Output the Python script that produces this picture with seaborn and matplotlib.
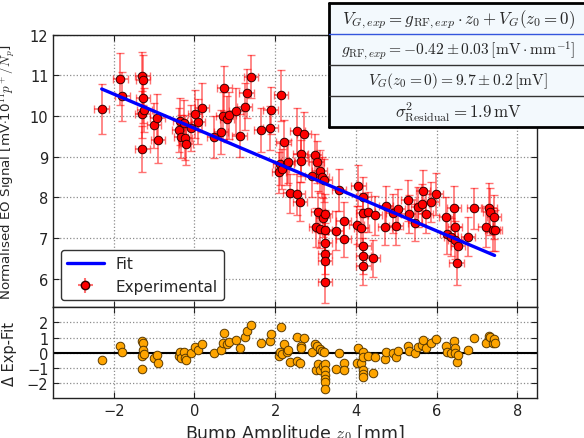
import numpy as np
import pandas as pd
import matplotlib
matplotlib.use("Agg")
import matplotlib.pyplot as plt
from matplotlib.lines import Line2D
import seaborn as sns

# Bump amplitude z0 [mm]
z = [-2.30, -1.84, -1.79, -1.29, -1.28, -1.28, -1.29, -1.24, -1.29, -1.00,
     -0.92, -0.91, -0.39, -0.36, -0.33, -0.25, -0.24, -0.21, -0.09, 0.01,
     0.09, 0.19, 0.48, 0.66, 0.71, 0.74, 0.81, 0.85, 1.03, 1.12,
     1.24, 1.29, 1.40, 1.66, 1.88, 1.89, 2.09, 2.13, 2.15, 2.17,
     2.21, 2.29, 2.32, 2.37, 2.55, 2.55, 2.61, 2.63, 2.64, 2.71,
     2.91, 2.98, 3.03, 3.02, 3.06, 3.10, 3.10, 3.16, 3.19, 3.22,
     3.24, 3.24, 3.24, 3.24, 3.24, 3.24, 3.50, 3.58, 3.70, 3.70,
     4.02, 4.06, 4.14, 4.19, 4.19, 4.19, 4.19, 4.19, 4.30, 4.43,
     4.48, 4.72, 4.75, 4.92, 4.99, 5.05, 5.30, 5.31, 5.47, 5.54,
     5.63, 5.66, 5.73, 5.87, 5.99, 6.24, 6.27, 6.36, 6.43, 6.46,
     6.47, 6.50, 6.53, 6.78, 6.93, 7.22, 7.31, 7.33, 7.39, 7.42,
     7.44]

# Normalised EO signal [mV 1e11 p+/Np]
v = [10.17, 10.91, 10.49, 10.99, 10.89, 10.44, 10.04, 10.15, 9.19, 9.77,
     9.96, 9.40, 9.66, 9.87, 9.49, 9.83, 9.47, 9.31, 9.70, 10.05,
     9.86, 10.21, 9.48, 9.62, 10.01, 10.68, 9.93, 10.02, 10.13, 9.52,
     10.23, 10.56, 10.97, 9.66, 9.70, 10.14, 8.62, 8.83, 10.51, 8.70,
     9.36, 8.81, 8.88, 8.10, 9.64, 8.08, 7.90, 9.06, 8.90, 9.55,
     8.52, 9.04, 8.87, 7.27, 7.65, 8.64, 7.22, 8.50, 7.50, 8.42,
     7.59, 7.20, 6.87, 6.61, 6.43, 5.91, 7.18, 8.18, 7.43, 6.99,
     7.33, 8.29, 7.26, 8.01, 7.63, 6.80, 6.56, 6.32, 7.65, 6.50,
     7.56, 7.28, 7.78, 7.61, 7.29, 7.71, 7.93, 7.60, 7.38, 7.76,
     7.84, 8.15, 7.60, 7.89, 8.08, 7.52, 7.09, 7.03, 7.75, 7.28,
     6.96, 6.38, 6.81, 7.03, 7.73, 7.28, 7.75, 7.65, 7.21, 7.52,
     7.19]

# Uncertainty on the signal
v_err = [0.62, 0.63, 0.60, 0.58, 0.62, 0.60, 0.57, 0.55, 0.57, 0.56,
         0.58, 0.55, 0.54, 0.57, 0.53, 0.56, 0.55, 0.52, 0.56, 0.58,
         0.55, 0.60, 0.52, 0.54, 0.57, 0.55, 0.56, 0.58, 0.57, 0.53,
         0.58, 0.60, 0.53, 0.55, 0.54, 0.58, 0.50, 0.52, 0.62, 0.50,
         0.55, 0.51, 0.52, 0.48, 0.56, 0.50, 0.48, 0.53, 0.52, 0.55,
         0.50, 0.53, 0.52, 0.48, 0.50, 0.52, 0.47, 0.50, 0.48, 0.52,
         0.50, 0.48, 0.50, 0.48, 0.47, 0.50, 0.48, 0.52, 0.47, 0.46,
         0.47, 0.50, 0.46, 0.49, 0.48, 0.46, 0.45, 0.48, 0.49, 0.45,
         0.48, 0.46, 0.50, 0.48, 0.46, 0.49, 0.50, 0.47, 0.46, 0.49,
         0.50, 0.52, 0.48, 0.50, 0.51, 0.48, 0.47, 0.46, 0.52, 0.48,
         0.47, 0.53, 0.47, 0.48, 0.50, 0.50, 0.60, 0.58, 0.52, 0.55,
         0.50]

z_err = 0.18  # uncertainty on the bump amplitude [mm]

# Linear fit parameters
slope, slope_err = -0.42, 0.03
intercept, intercept_err = 9.7, 0.2
sigma_res = 1.9

z = np.array(z)
v = np.array(v)
v_err = np.array(v_err)
residual = v - (intercept + slope * z)

z_line = np.array([z.min(), z.max()])
fit_df = pd.DataFrame({"z": z_line, "fit": intercept + slope * z_line})
res_df = pd.DataFrame({"z": z, "residual": residual})

sns.set_style("ticks")
plt.rcParams.update({
    "font.family": ["DejaVu Sans"],
    "mathtext.fontset": "cm",
    "font.size": 10.5,
    "axes.edgecolor": "#222222",
    "axes.linewidth": 1.0,
    "xtick.direction": "in",
    "ytick.direction": "in",
    "xtick.top": True,
    "ytick.right": True,
    "xtick.major.size": 4,
    "ytick.major.size": 4,
    "xtick.color": "#222222",
    "ytick.color": "#222222",
    "xtick.labelsize": 10.5,
    "ytick.labelsize": 10.5,
})

fig = plt.figure(figsize=(5.84, 4.39), dpi=100)
ax = fig.add_axes([0.0913, 0.2977, 0.8288, 0.621])
axr = fig.add_axes([0.0913, 0.0911, 0.8288, 0.2066], sharex=ax)

grid_kw = dict(color="0.55", linestyle=":", linewidth=0.9)

# --- main panel: data with error bars and linear fit
ax.errorbar(z, v, yerr=v_err, xerr=z_err, fmt="none",
            ecolor=(1.0, 0.0, 0.0, 0.55), elinewidth=1.2, capsize=3,
            capthick=1.0, zorder=2)
sns.scatterplot(data=pd.DataFrame({"z": z, "v": v}), x="z", y="v", ax=ax,
                color="red", edgecolor="#330000", linewidth=0.7, s=38,
                zorder=3, legend=False)
sns.lineplot(data=fit_df, x="z", y="fit", ax=ax, color="blue",
             linewidth=2.4, zorder=4, legend=False)

ax.set_xlim(-3.5, 8.5)
ax.set_ylim(5.3, 12)
ax.set_yticks([6, 7, 8, 9, 10, 11, 12])
ax.grid(True, **grid_kw)
ax.tick_params(labelbottom=False)
ax.set_xlabel("")
ax.set_ylabel(r"Normalised EO Signal [mV$\cdot$10$^{11}$$p^+/N_p$]", fontsize=9.6)
ax.yaxis.set_label_coords(-0.075, 0.5)

fit_handle = Line2D([], [], color="blue", linewidth=2.4)
exp_handle = ax.errorbar([], [], yerr=[], xerr=[], fmt="o", color="red",
                         mec="#330000", ms=6, ecolor=(1.0, 0.0, 0.0, 0.55),
                         capsize=3)
leg = ax.legend([fit_handle, exp_handle], ["Fit", "Experimental"],
                loc="lower left", fontsize=11, frameon=True, fancybox=True,
                framealpha=1.0, handlelength=2.4)
leg.get_frame().set_edgecolor("#333333")
leg.get_frame().set_linewidth(1.0)

# --- residual panel
axr.axhline(0, color="black", linewidth=1.5, zorder=2)
sns.scatterplot(data=res_df, x="z", y="residual", ax=axr, color="orange",
                edgecolor="#5a3a00", linewidth=0.7, s=38, zorder=3,
                legend=False)
axr.set_ylim(-3, 3)
axr.set_yticks([-2, -1, 0, 1, 2])
axr.set_xticks([-2, 0, 2, 4, 6, 8])
axr.grid(True, **grid_kw)
axr.set_ylabel("Δ Exp-Fit", fontsize=10.5)
axr.yaxis.set_label_coords(-0.075, 0.5)
axr.set_xlabel(r"Bump Amplitude $z_0$ [mm]", fontsize=12.5, labelpad=3)

# --- fit summary table (runs past the right edge of the figure)
cell_w = 259 / 584
tab_w = 300 / 584
tab = fig.add_axes([329 / 584, 1 - 128 / 439, tab_w, 124 / 439], zorder=10)
x_end = tab_w / cell_w
tab.set_xlim(0, x_end)
tab.set_ylim(0, 4)
tab.axis("off")
tab.add_patch(plt.Rectangle((0, 0), x_end, 4, facecolor="#f3f9fd",
                            edgecolor="none", clip_on=False))
rows = [
    r"$V_{G,exp} = g_{\mathrm{RF},exp} \cdot z_0 + V_G(z_0 = 0)$",
    rf"$g_{{\mathrm{{RF}},exp}} = {slope:.2f} \pm {slope_err:.2f}\,[\mathrm{{mV}} \cdot \mathrm{{mm}}^{{-1}}]$",
    rf"$V_G(z_0 = 0) = {intercept:.1f} \pm {intercept_err:.1f}\,[\mathrm{{mV}}]$",
    rf"$\sigma^2_{{\mathrm{{Residual}}}} = {sigma_res:.1f}\,\mathrm{{mV}}$",
]
row_sizes = [12.2, 11.2, 11.2, 12.2]
for i, (txt, fs) in enumerate(zip(rows, row_sizes)):
    tab.text(0.5, 3.5 - i, txt, ha="center", va="center", fontsize=fs)
tab.plot([0, x_end], [4, 4], color="black", linewidth=2.0, clip_on=False)
tab.plot([0, x_end], [0, 0], color="black", linewidth=2.0, clip_on=False)
tab.plot([0, 0], [0, 4], color="black", linewidth=2.0, clip_on=False)
tab.plot([0, x_end], [3, 3], color="#3355dd", linewidth=1.0, clip_on=False)
for yy in (1, 2):
    tab.plot([0, x_end], [yy, yy], color="#333333", linewidth=1.0,
             clip_on=False)

fig.savefig("out.png", dpi=100)
